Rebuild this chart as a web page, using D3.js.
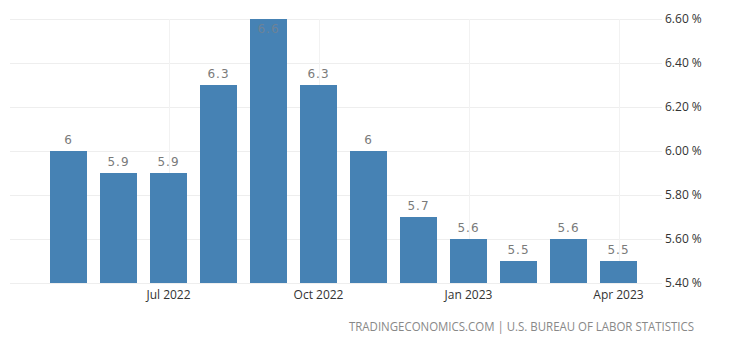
<!DOCTYPE html>
<html>
<head>
<meta charset="utf-8">
<script src="https://cdn.jsdelivr.net/npm/d3@7"></script>
<style>
  html, body { margin: 0; padding: 0; background: #fff; }
  svg { display: block; }
</style>
</head>
<body>
<svg id="chart" width="740" height="345"></svg>
<script>
// Monthly unemployment-style series, May 2022 - Apr 2023
const months = ["2022-05","2022-06","2022-07","2022-08","2022-09","2022-10",
                "2022-11","2022-12","2023-01","2023-02","2023-03","2023-04"];
const values = [6, 5.9, 5.9, 6.3, 6.6, 6.3, 6, 5.7, 5.6, 5.5, 5.6, 5.5];
const yTicks = [5.4, 5.6, 5.8, 6.0, 6.2, 6.4, 6.6];
const xTickMonths = ["2022-07","2022-10","2023-01","2023-04"];
const xTickLabels = ["Jul 2022","Oct 2022","Jan 2023","Apr 2023"];
const source = "TRADINGECONOMICS.COM | U.S. BUREAU OF LABOR STATISTICS";

const svg = d3.select("#chart");
const plot = { left: 43.5, right: 643.5, top: 19, bottom: 283 };
const axisFont = "'Open Sans', 'DejaVu Sans', sans-serif";

const x = d3.scaleBand()
  .domain(months)
  .range([plot.left, plot.right])
  .paddingInner(0.26)
  .paddingOuter(0.13);

const y = d3.scaleLinear()
  .domain([5.4, 6.6])
  .range([plot.bottom, plot.top]);

// horizontal grid
svg.append("g")
  .selectAll("line")
  .data(yTicks)
  .join("line")
  .attr("x1", 10).attr("x2", 662)
  .attr("y1", d => Math.round(y(d)) + 0.5)
  .attr("y2", d => Math.round(y(d)) + 0.5)
  .attr("stroke", "#eeeeee")
  .attr("stroke-width", 1);

// vertical grid at labelled months
svg.append("g")
  .selectAll("line")
  .data(xTickMonths)
  .join("line")
  .attr("x1", d => Math.round(x(d) + x.bandwidth() / 2) + 0.5)
  .attr("x2", d => Math.round(x(d) + x.bandwidth() / 2) + 0.5)
  .attr("y1", plot.top)
  .attr("y2", plot.bottom)
  .attr("stroke", "#f2f2f2")
  .attr("stroke-width", 1);

// bars
svg.append("g")
  .selectAll("rect")
  .data(values)
  .join("rect")
  .attr("x", (d, i) => x(months[i]))
  .attr("width", x.bandwidth())
  .attr("y", d => y(d))
  .attr("height", d => y(5.4) - y(d))
  .attr("fill", "#4682b4");

// value labels (kept inside the plot when the bar reaches the top)
svg.append("g")
  .selectAll("text")
  .data(values)
  .join("text")
  .attr("x", (d, i) => x(months[i]) + x.bandwidth() / 2)
  .attr("y", d => Math.max(y(d) - 7, plot.top + 14))
  .attr("text-anchor", "middle")
  .attr("font-family", "'DejaVu Sans', sans-serif")
  .attr("font-size", 12)
  .attr("letter-spacing", 1)
  .attr("fill", d => y(d) - 7 < plot.top + 14 ? "#6d8297" : "#7a7a7a")
  .text(d => String(d));

// right y axis
const yAxis = d3.axisRight(y)
  .tickValues(yTicks)
  .tickSize(0)
  .tickPadding(0)
  .tickFormat(d => d3.format(".2f")(d) + " %");
svg.append("g")
  .attr("transform", "translate(665,0)")
  .call(yAxis)
  .call(g => g.select(".domain").remove())
  .call(g => g.selectAll("text")
    .attr("font-family", axisFont)
    .attr("font-size", 12)
    .attr("fill", "#333333"));

// bottom x axis
const xAxis = d3.axisBottom(x)
  .tickValues(xTickMonths)
  .tickSize(0)
  .tickPadding(0)
  .tickFormat(d => xTickLabels[xTickMonths.indexOf(d)]);
svg.append("g")
  .attr("transform", `translate(0,${plot.bottom + 7})`)
  .call(xAxis)
  .call(g => g.select(".domain").remove())
  .call(g => g.selectAll("text")
    .attr("font-family", axisFont)
    .attr("font-size", 12)
    .attr("fill", "#333333"));

// source line
svg.append("text")
  .attr("x", 694)
  .attr("y", 331)
  .attr("text-anchor", "end")
  .attr("font-family", axisFont)
  .attr("font-size", 12)
  .attr("textLength", 345)
  .attr("lengthAdjust", "spacingAndGlyphs")
  .attr("fill", "#888888")
  .text(source);
</script>
</body>
</html>
